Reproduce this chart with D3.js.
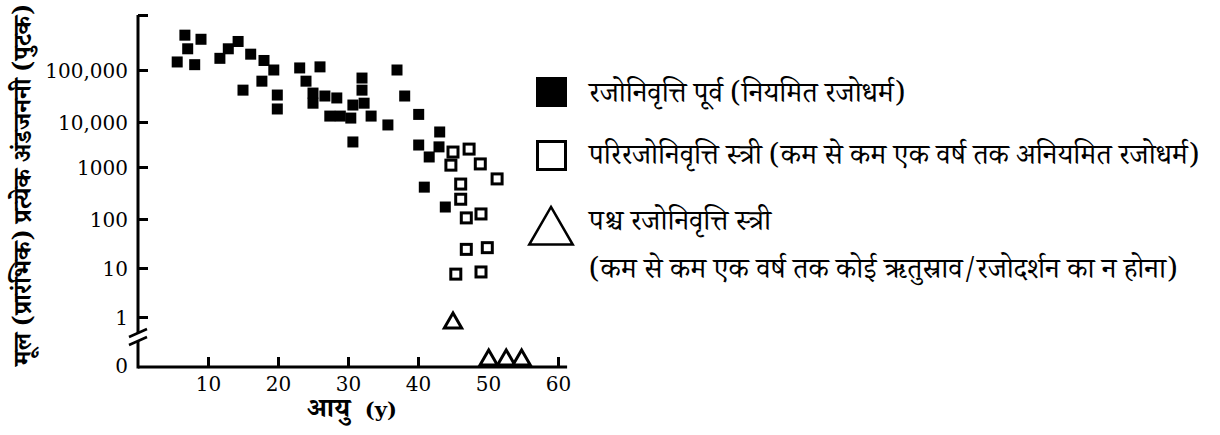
<!DOCTYPE html>
<meta charset="utf-8">
<title>Follicles vs age</title>
<style>
    body {
        margin: 0;
        background: #fff;
        width: 1220px;
        height: 435px;
        overflow: hidden;
    }

    svg {
        display: block;
    }

    .tick text {
        font-family: "DejaVu Serif", serif;
        font-size: 20px;
        fill: #000;
    }

    .hi {
        font-family: "Noto Serif Devanagari", "Noto Sans Devanagari", "Lohit Devanagari", "Gargi", "Kalimati", serif;
        fill: #000;
    }
</style>

<body>
    <svg width="1220" height="435"></svg>

    <script src="https://d3js.org/d3.v7.min.js"></script>
    <script>
        // pre-menopausal (regular cycles): [age, follicle count]
        const preAge = [5.6, 6.7, 7.1, 8.1, 9.0, 11.7, 12.9, 14.3, 15.0, 16.1, 17.7, 18.0, 19.4, 19.9, 19.9,
            23.1, 24.0, 25.0, 25.0, 26.0, 26.7, 27.4, 28.4, 28.9, 30.4, 30.7, 30.7, 32.0, 32.0, 32.3,
            33.3, 35.7, 37.0, 38.1, 40.1, 40.1, 40.9, 41.6, 43.0, 43.1, 43.9];
        const preCount = [140000, 430000, 243000, 125000, 362000, 163000, 243000, 330000, 41000, 194000, 61000, 149000, 100000, 33000, 17800,
            109000, 61000, 36000, 23000, 114000, 31600, 13000, 29000, 13000, 11900, 21200, 3600, 70000, 41000, 23000,
            13000, 8600, 100000, 31600, 14000, 3080, 410, 1670, 2800, 6000, 170];

        // peri-menopausal
        const periAge = [45.0, 47.3, 44.7, 48.9, 51.3, 46.1, 46.1, 46.9, 49.0, 46.9, 49.9, 45.4, 49.0];
        const periCount = [2150, 2500, 1100, 1170, 590, 470, 240, 105, 125, 24, 26, 7.5, 8.3];

        // post-menopausal (0 = on the broken baseline)
        const postAge = [45.0, 50.1, 52.6, 54.8];
        const postCount = [0.75, 0, 0, 0];

        const yTicks = [1, 10, 100, 1000, 10000, 100000, 1000000];
        const yTickLabels = ["1", "10", "100", "1000", "10,000", "100,000", ""];
        const xTicks = [10, 20, 30, 40, 50, 60];

        const legendLabels = [
            ["रजोनिवृत्ति पूर्व (नियमित रजोधर्म)"],
            ["परिरजोनिवृत्ति स्त्री (कम से कम एक वर्ष तक अनियमित रजोधर्म)"],
            ["पश्च रजोनिवृत्ति स्त्री", "(कम से कम एक वर्ष तक कोई ऋतुस्राव/रजोदर्शन का न होना)"]
        ];

        const svg = d3.select("svg");

        const x = d3.scaleLinear().domain([0, 60]).range([138, 558]);
        // the printed decades are not evenly spaced, so a polylinear log scale
        const y = d3.scaleLog().domain(yTicks).range([317, 268, 219, 167, 122, 70, 15]);
        const yZero = 367;

        const axisW = 3;

        // y axis (ticks point inward)
        const yAxis = svg.append("g")
            .attr("transform", `translate(${x(0)},0)`)
            .call(d3.axisLeft(y).tickValues(yTicks).tickSize(-10).tickSizeOuter(0).tickPadding(10)
                .tickFormat((d, i) => yTickLabels[i]));
        yAxis.select(".domain").remove();
        yAxis.selectAll(".tick line").attr("stroke", "#000").attr("stroke-width", axisW);
        yAxis.selectAll(".tick text").attr("dy", "0.36em");

        // zero label
        svg.append("text")
            .attr("x", x(0) - 10).attr("y", yZero)
            .attr("dy", "0.32em")
            .attr("text-anchor", "end")
            .style("font-family", "DejaVu Serif, serif").style("font-size", "20px")
            .text("0");

        // y axis line with break
        const breakTop = 333, breakBot = 341;
        svg.append("line")
            .attr("x1", x(0)).attr("x2", x(0))
            .attr("y1", y(1000000)).attr("y2", breakTop)
            .attr("stroke", "#000").attr("stroke-width", axisW);
        svg.append("line")
            .attr("x1", x(0)).attr("x2", x(0))
            .attr("y1", breakBot).attr("y2", yZero + axisW / 2)
            .attr("stroke", "#000").attr("stroke-width", axisW);
        [breakTop, breakBot].forEach(b => {
            svg.append("line")
                .attr("x1", x(0) - 9).attr("y1", b + 4)
                .attr("x2", x(0) + 9).attr("y2", b - 4)
                .attr("stroke", "#000").attr("stroke-width", 2.5);
        });

        // x axis
        const xAxis = svg.append("g")
            .attr("transform", `translate(0,${yZero})`)
            .call(d3.axisBottom(x).tickValues(xTicks).tickSize(-10).tickSizeOuter(0).tickPadding(10));
        xAxis.select(".domain").remove();
        xAxis.selectAll(".tick line").attr("stroke", "#000").attr("stroke-width", axisW);
        svg.append("line")
            .attr("x1", x(0)).attr("x2", x(61.3))
            .attr("y1", yZero).attr("y2", yZero)
            .attr("stroke", "#000").attr("stroke-width", axisW);

        // points
        const pre = preAge.map((a, i) => ({ age: a, n: preCount[i] }));
        const peri = periAge.map((a, i) => ({ age: a, n: periCount[i] }));
        const post = postAge.map((a, i) => ({ age: a, n: postCount[i] }));

        svg.append("g").selectAll("rect")
            .data(pre)
            .join("rect")
            .attr("x", d => x(d.age) - 5.5)
            .attr("y", d => y(d.n) - 5.5)
            .attr("width", 11).attr("height", 11)
            .attr("fill", "#000");

        svg.append("g").selectAll("rect")
            .data(peri)
            .join("rect")
            .attr("x", d => x(d.age) - 5)
            .attr("y", d => y(d.n) - 5)
            .attr("width", 10).attr("height", 10)
            .attr("fill", "#fff")
            .attr("stroke", "#000").attr("stroke-width", 3);

        const tri = d3.symbol(d3.symbolTriangle, 130);
        svg.append("g").selectAll("path")
            .data(post)
            .join("path")
            .attr("d", tri)
            .attr("transform", d => `translate(${x(d.age)},${d.n > 0 ? y(d.n) : yZero - 7})`)
            .attr("fill", "#fff")
            .attr("stroke", "#000").attr("stroke-width", 3)
            .attr("stroke-linejoin", "miter");

        // axis titles
        svg.append("text")
            .attr("class", "hi")
            .attr("transform", "translate(31,185) rotate(-90)")
            .attr("text-anchor", "middle")
            .style("font-size", "25px").style("font-weight", "bold")
            .text("मूल (प्रारंभिक) प्रत्येक अंडजननी (पुटक)");

        const xt = svg.append("text")
            .attr("x", 352).attr("y", 417)
            .attr("text-anchor", "middle")
            .style("font-weight", "bold");
        xt.append("tspan").attr("class", "hi").style("font-size", "27px").text("आयु");
        xt.append("tspan").style("font-family", "DejaVu Serif, serif").style("font-size", "21px").text("\u00a0 (y)");

        // legend
        const lg = svg.append("g");
        lg.append("rect").attr("x", 536).attr("y", 77).attr("width", 31).attr("height", 30).attr("fill", "#000");
        lg.append("rect").attr("x", 537.5).attr("y", 141.5).attr("width", 28).attr("height", 28)
            .attr("fill", "#fff").attr("stroke", "#000").attr("stroke-width", 3);
        lg.append("path")
            .attr("d", d3.symbol(d3.symbolTriangle, 820)())
            .attr("transform", "translate(551,232)")
            .attr("fill", "#fff").attr("stroke", "#000").attr("stroke-width", 2.5);

        const legendY = [[102], [164], [230, 278]];
        legendLabels.forEach((lines, i) => {
            lines.forEach((t, j) => {
                lg.append("text")
                    .attr("class", "hi")
                    .attr("x", 589).attr("y", legendY[i][j])
                    .style("font-size", "28.5px")
                    .text(t);
            });
        });
    </script>
</body>

</html>
